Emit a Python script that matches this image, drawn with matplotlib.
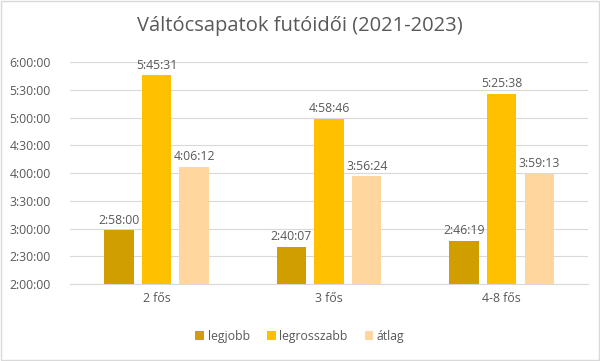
import numpy as np
import matplotlib
matplotlib.use('Agg')
import matplotlib.pyplot as plt
from matplotlib.ticker import FuncFormatter, MultipleLocator

categories = ['2 fős', '3 fős', '4-8 fős']
series_names = ['legjobb', 'legrosszabb', 'átlag']
legjobb = ['2:58:00', '2:40:07', '2:46:19']
legrosszabb = ['5:45:31', '4:58:46', '5:25:38']
atlag = ['4:06:12', '3:56:24', '3:59:13']
colors = ['#D19E00', '#FFC000', '#FFD79E']


def to_hours(s):
    h, m, sec = [int(v) for v in s.split(':')]
    return h + m / 60 + sec / 3600


def fmt_time(x, pos=None):
    total = int(round(x * 3600))
    return '%d:%02d:%02d' % (total // 3600, (total % 3600) // 60, total % 60)


plt.rcParams['font.family'] = ['Open Sans', 'DejaVu Sans']
grey = '#595959'

fig = plt.figure(figsize=(6, 3.61), dpi=100)
fig.patches.append(plt.Rectangle((0.002, 0.003), 0.996, 0.994, transform=fig.transFigure,
                                 fill=False, edgecolor='#D9D9D9', linewidth=1))
ax = fig.add_axes([0.117, 0.213, 0.863, 0.615])

x = np.arange(len(categories))
w = 0.17
step = 0.218
for i, (name, vals) in enumerate(zip(series_names, [legjobb, legrosszabb, atlag])):
    hrs = [to_hours(v) for v in vals]
    pos = x + (i - 1) * step
    ax.bar(pos, [h - 2 for h in hrs], w, bottom=2, color=colors[i], label=name, zorder=3)
    for p, h, v in zip(pos, hrs, vals):
        ax.text(p, h + 0.07, v, ha='center', va='bottom', fontsize=8.8, color=grey)

ax.set_ylim(2, 6)
ax.set_xlim(-0.5, 2.5)
ax.yaxis.set_major_locator(MultipleLocator(0.5))
ax.yaxis.set_major_formatter(FuncFormatter(fmt_time))
ax.set_xticks(x)
ax.set_xticklabels(categories)
ax.grid(axis='y', color='#D9D9D9', linewidth=0.8, zorder=0)
for s in ['top', 'right', 'left']:
    ax.spines[s].set_visible(False)
ax.spines['bottom'].set_color('#D9D9D9')
ax.tick_params(axis='both', length=0, labelsize=8.8, labelcolor=grey, pad=6)
ax.tick_params(axis='y', pad=14)

fig.suptitle('Váltócsapatok futóidői (2021-2023)', y=0.955, fontsize=14.5, color=grey)
fig.legend(loc='lower center', bbox_to_anchor=(0.5, 0.02), ncol=3, frameon=False,
           fontsize=8.8, labelcolor=grey, handlelength=0.7, handleheight=0.7,
           handletextpad=0.3, columnspacing=1.4)

fig.savefig('out.png', dpi=100)
